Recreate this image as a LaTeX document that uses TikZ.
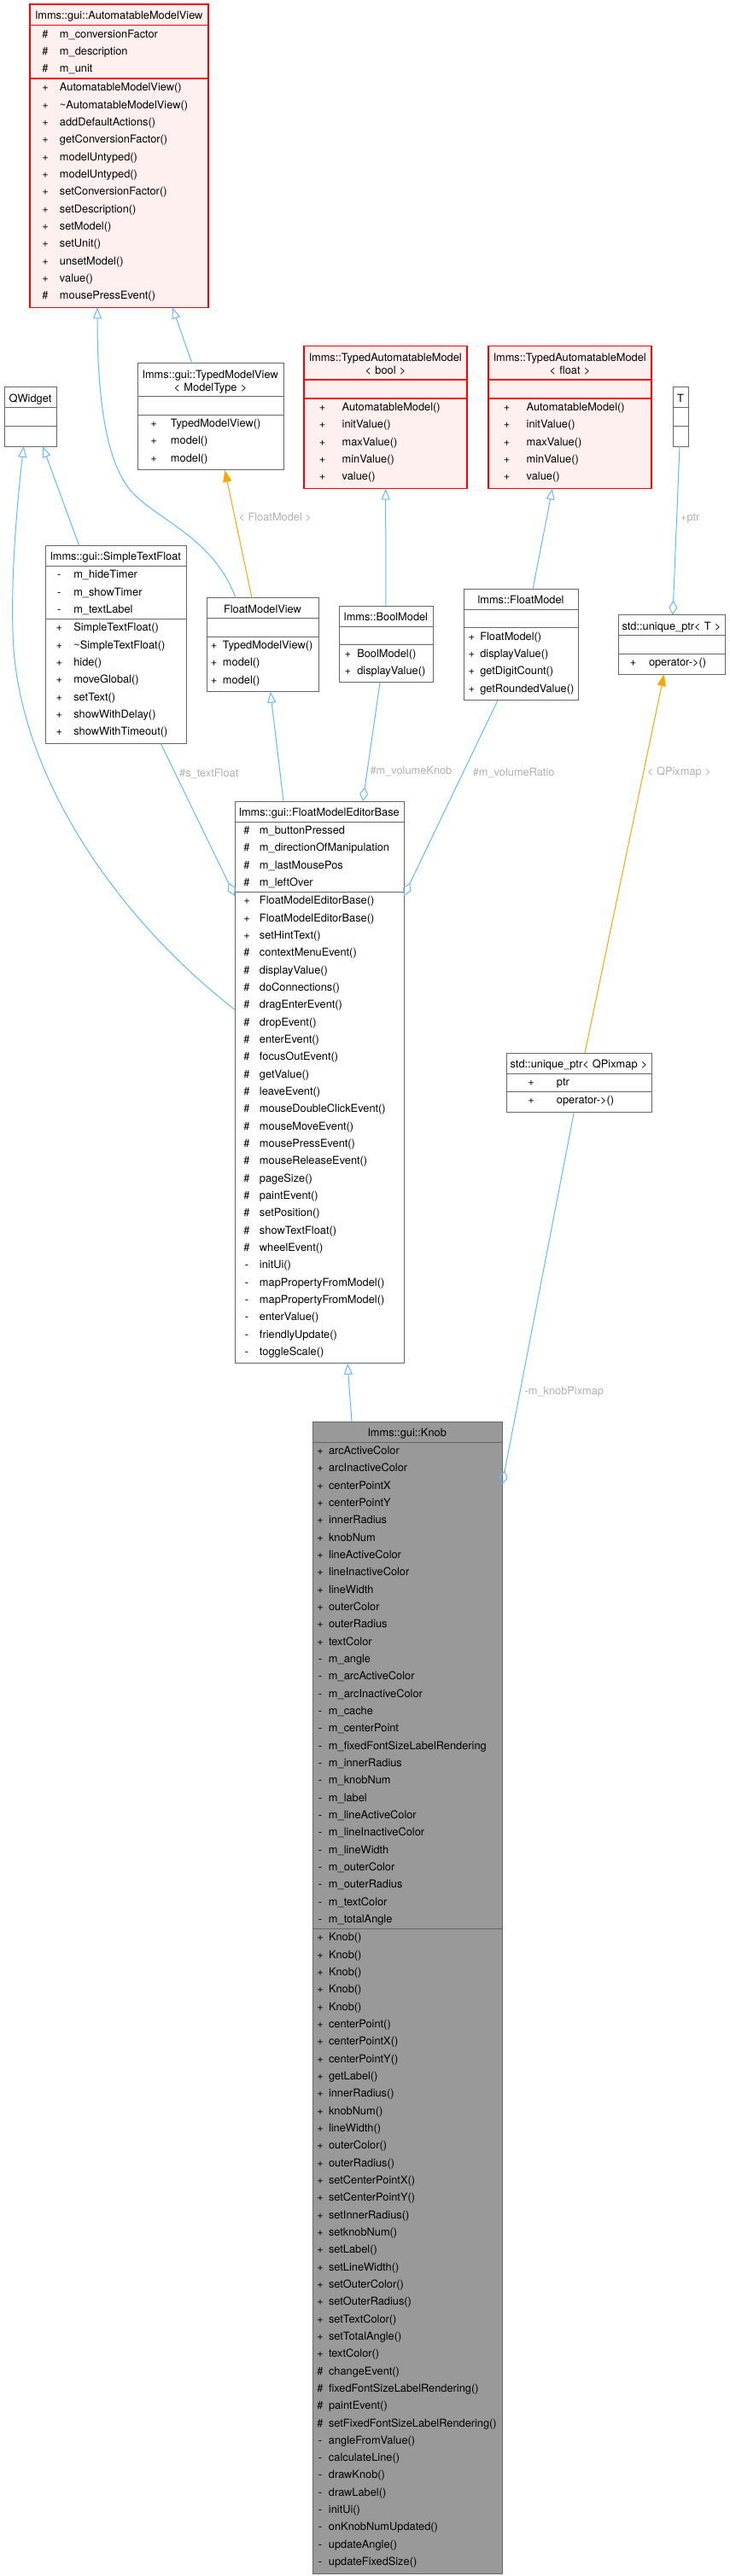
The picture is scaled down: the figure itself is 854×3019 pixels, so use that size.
\documentclass[tikz,border=0pt]{standalone}
\usepackage{fontspec}
\setmainfont{TeX Gyre Heros}
\usepackage{xcolor}
\usepackage{tikz}
\usetikzlibrary{shapes,arrows.meta}

\definecolor{edgeblue}{HTML}{63B8FF}
\definecolor{edgeorange}{HTML}{FFA500}
\definecolor{boxgray}{HTML}{666666}
\definecolor{knobfill}{HTML}{999999}
\definecolor{redfill}{HTML}{FFF0F0}
\definecolor{lblgray}{HTML}{B0B0B0}

% member rows
\newcommand{\symx}{10pt}
\newcommand{\namex}{20pt}
\newcommand{\rs}{\rule[-6.33pt]{0pt}{20.33pt}}
\newcommand{\botpad}{\rule[-9pt]{0pt}{9pt}}
\newcommand{\mbr}[2]{\mbox{\hspace*{\symx}\makebox[0pt]{#1}\hspace*{\dimexpr\namex-\symx\relax}#2\rs}}
\newcommand{\ttl}[1]{\makebox[\hsize]{\rule{0pt}{17pt}#1\rule[-6pt]{0pt}{6pt}}}
\newcommand{\ttltwo}[2]{\makebox[\hsize]{\rule{0pt}{17pt}#1}\\[-5.33pt]\makebox[\hsize]{#2\rule[-6pt]{0pt}{6pt}}}

\begin{document}
\begin{tikzpicture}[
    x=1pt, y=-1pt,
    classbox/.style={rectangle split, rectangle split parts=3, draw=boxgray, fill=white, line width=1pt, anchor=north west, inner sep=0pt, outer sep=0pt, align=left, font=\fontsize{12.8pt}{20.33pt}\selectfont},
    redbox/.style={classbox, draw=red, fill=redfill, line width=1.5pt},
    mainbox/.style={classbox, fill=knobfill},
    cols/.code 2 args={\def\symx{#1}\def\namex{#2}},
    inherit/.style={-{Triangle[open, length=13pt, width=10pt]}, draw=edgeblue, line width=1pt},
    usage/.style={-{Diamond[open, length=17pt, width=10pt]}, draw=edgeblue, line width=1pt},
    tmpl/.style={-{Triangle[length=14pt, width=10pt]}, draw=edgeorange, line width=1pt},
    elabel/.style={text=lblgray, font=\fontsize{12.8pt}{15pt}\selectfont, inner sep=2pt}
]
\useasboundingbox (0,0) rectangle (854,3019);

% Base classes
\node[redbox, cols={18pt}{35pt}, text width=209pt] (amv) at (35,5)
  {\ttl{lmms::gui::AutomatableModelView}
   \nodepart{second}\mbr{\#}{m\_conversionFactor}\\ \mbr{\#}{m\_description}\\ \mbr{\#}{m\_unit}
   \nodepart{third}\mbr{+}{AutomatableModelView()}\\ \mbr{+}{\textasciitilde AutomatableModelView()}\\
   \mbr{+}{addDefaultActions()}\\ \mbr{+}{getConversionFactor()}\\ \mbr{+}{modelUntyped()}\\
   \mbr{+}{modelUntyped()}\\ \mbr{+}{setConversionFactor()}\\ \mbr{+}{setDescription()}\\
   \mbr{+}{setModel()}\\ \mbr{+}{setUnit()}\\ \mbr{+}{unsetModel()}\\ \mbr{+}{value()}\\
   \mbr{\#}{mousePressEvent()}\botpad};
\node[classbox, text width=61pt] (qwidget) at (5,453.7)
  {\ttl{QWidget}\nodepart{second}\rs\nodepart{third}\rs\botpad};
\node[classbox, cols={19pt}{39pt}, text width=171pt] (tmv) at (161,425.8)
  {\ttltwo{lmms::gui::TypedModelView}{< ModelType >}
   \nodepart{second}\rs
   \nodepart{third}\mbr{+}{TypedModelView()}\\ \mbr{+}{model()}\\ \mbr{+}{model()}\botpad};
\node[redbox, cols={21.7pt}{44.7pt}, text width=191pt] (tamb) at (356,405.5)
  {\ttltwo{lmms::TypedAutomatableModel}{< bool >}
   \nodepart{second}\rs
   \nodepart{third}\mbr{+}{AutomatableModel()}\\ \mbr{+}{initValue()}\\ \mbr{+}{maxValue()}\\
   \mbr{+}{minValue()}\\ \mbr{+}{value()}\botpad};
\node[redbox, cols={21.7pt}{44.7pt}, text width=191pt] (tamf) at (572,405.5)
  {\ttltwo{lmms::TypedAutomatableModel}{< float >}
   \nodepart{second}\rs
   \nodepart{third}\mbr{+}{AutomatableModel()}\\ \mbr{+}{initValue()}\\ \mbr{+}{maxValue()}\\
   \mbr{+}{minValue()}\\ \mbr{+}{value()}\botpad};
\node[classbox, text width=18pt] (tt) at (788,453.7)
  {\ttl{T}\nodepart{second}\rs\nodepart{third}\rs\botpad};

% Middle classes
\node[classbox, cols={16.3pt}{33.3pt}, text width=165pt] (stf) at (53,639.4)
  {\ttl{lmms::gui::SimpleTextFloat}
   \nodepart{second}\mbr{-}{m\_hideTimer}\\ \mbr{-}{m\_showTimer}\\ \mbr{-}{m\_textLabel}
   \nodepart{third}\mbr{+}{SimpleTextFloat()}\\ \mbr{+}{\textasciitilde SimpleTextFloat()}\\
   \mbr{+}{hide()}\\ \mbr{+}{moveGlobal()}\\ \mbr{+}{setText()}\\ \mbr{+}{showWithDelay()}\\
   \mbr{+}{showWithTimeout()}\botpad};
\node[classbox, cols={8.7pt}{19pt}, text width=131pt] (fmv) at (242,700.7)
  {\ttl{FloatModelView}
   \nodepart{second}\rs
   \nodepart{third}\mbr{+}{TypedModelView()}\\ \mbr{+}{model()}\\ \mbr{+}{model()}\botpad};
\node[classbox, cols={10.3pt}{21.3pt}, text width=110pt] (boolm) at (397,710.3)
  {\ttl{lmms::BoolModel}
   \nodepart{second}\rs
   \nodepart{third}\mbr{+}{BoolModel()}\\ \mbr{+}{displayValue()}\botpad};
\node[classbox, cols={9.3pt}{19.3pt}, text width=134pt] (floatm) at (543,690.4)
  {\ttl{lmms::FloatModel}
   \nodepart{second}\rs
   \nodepart{third}\mbr{+}{FloatModel()}\\ \mbr{+}{displayValue()}\\ \mbr{+}{getDigitCount()}\\
   \mbr{+}{getRoundedValue()}\botpad};
\node[classbox, cols={17.7pt}{36pt}, text width=125pt] (uptrt) at (724,720.7)
  {\ttl{std::unique\_ptr< T >}
   \nodepart{second}\rs
   \nodepart{third}\mbr{+}{operator->()}\botpad};

% Editor base
\node[classbox, cols={14pt}{29pt}, text width=198pt] (fmeb) at (275,939)
  {\ttl{lmms::gui::FloatModelEditorBase}
   \nodepart{second}\mbr{\#}{m\_buttonPressed}\\ \mbr{\#}{m\_directionOfManipulation}\\
   \mbr{\#}{m\_lastMousePos}\\ \mbr{\#}{m\_leftOver}
   \nodepart{third}\mbr{+}{FloatModelEditorBase()}\\ \mbr{+}{FloatModelEditorBase()}\\
   \mbr{+}{setHintText()}\\ \mbr{\#}{contextMenuEvent()}\\ \mbr{\#}{displayValue()}\\
   \mbr{\#}{doConnections()}\\ \mbr{\#}{dragEnterEvent()}\\ \mbr{\#}{dropEvent()}\\
   \mbr{\#}{enterEvent()}\\ \mbr{\#}{focusOutEvent()}\\ \mbr{\#}{getValue()}\\
   \mbr{\#}{leaveEvent()}\\ \mbr{\#}{mouseDoubleClickEvent()}\\ \mbr{\#}{mouseMoveEvent()}\\
   \mbr{\#}{mousePressEvent()}\\ \mbr{\#}{mouseReleaseEvent()}\\ \mbr{\#}{pageSize()}\\
   \mbr{\#}{paintEvent()}\\ \mbr{\#}{setPosition()}\\ \mbr{\#}{showTextFloat()}\\
   \mbr{\#}{wheelEvent()}\\ \mbr{-}{initUi()}\\ \mbr{-}{mapPropertyFromModel()}\\
   \mbr{-}{mapPropertyFromModel()}\\ \mbr{-}{enterValue()}\\ \mbr{-}{friendlyUpdate()}\\
   \mbr{-}{toggleScale()}\botpad};
\node[classbox, cols={29pt}{59pt}, text width=170pt] (uptrqp) at (593,1234)
  {\ttl{std::unique\_ptr< QPixmap >}
   \nodepart{second}\mbr{+}{ptr}
   \nodepart{third}\mbr{+}{operator->()}\botpad};

% Knob
\node[mainbox, cols={9pt}{19pt}, text width=222pt] (knob) at (366,1666)
  {\ttl{lmms::gui::Knob}
   \nodepart{second}\mbr{+}{arcActiveColor}\\ \mbr{+}{arcInactiveColor}\\ \mbr{+}{centerPointX}\\
   \mbr{+}{centerPointY}\\ \mbr{+}{innerRadius}\\ \mbr{+}{knobNum}\\ \mbr{+}{lineActiveColor}\\
   \mbr{+}{lineInactiveColor}\\ \mbr{+}{lineWidth}\\ \mbr{+}{outerColor}\\ \mbr{+}{outerRadius}\\
   \mbr{+}{textColor}\\ \mbr{-}{m\_angle}\\ \mbr{-}{m\_arcActiveColor}\\ \mbr{-}{m\_arcInactiveColor}\\
   \mbr{-}{m\_cache}\\ \mbr{-}{m\_centerPoint}\\ \mbr{-}{m\_fixedFontSizeLabelRendering}\\
   \mbr{-}{m\_innerRadius}\\ \mbr{-}{m\_knobNum}\\ \mbr{-}{m\_label}\\ \mbr{-}{m\_lineActiveColor}\\
   \mbr{-}{m\_lineInactiveColor}\\ \mbr{-}{m\_lineWidth}\\ \mbr{-}{m\_outerColor}\\
   \mbr{-}{m\_outerRadius}\\ \mbr{-}{m\_textColor}\\ \mbr{-}{m\_totalAngle}
   \nodepart{third}\mbr{+}{Knob()}\\ \mbr{+}{Knob()}\\ \mbr{+}{Knob()}\\ \mbr{+}{Knob()}\\
   \mbr{+}{Knob()}\\ \mbr{+}{centerPoint()}\\ \mbr{+}{centerPointX()}\\ \mbr{+}{centerPointY()}\\
   \mbr{+}{getLabel()}\\ \mbr{+}{innerRadius()}\\ \mbr{+}{knobNum()}\\ \mbr{+}{lineWidth()}\\
   \mbr{+}{outerColor()}\\ \mbr{+}{outerRadius()}\\ \mbr{+}{setCenterPointX()}\\
   \mbr{+}{setCenterPointY()}\\ \mbr{+}{setInnerRadius()}\\ \mbr{+}{setknobNum()}\\
   \mbr{+}{setLabel()}\\ \mbr{+}{setLineWidth()}\\ \mbr{+}{setOuterColor()}\\
   \mbr{+}{setOuterRadius()}\\ \mbr{+}{setTextColor()}\\ \mbr{+}{setTotalAngle()}\\
   \mbr{+}{textColor()}\\ \mbr{\#}{changeEvent()}\\ \mbr{\#}{fixedFontSizeLabelRendering()}\\
   \mbr{\#}{paintEvent()}\\ \mbr{\#}{setFixedFontSizeLabelRendering()}\\ \mbr{-}{angleFromValue()}\\
   \mbr{-}{calculateLine()}\\ \mbr{-}{drawKnob()}\\ \mbr{-}{drawLabel()}\\ \mbr{-}{initUi()}\\
   \mbr{-}{onKnobNumUpdated()}\\ \mbr{-}{updateAngle()}\\ \mbr{-}{updateFixedSize()}\botpad};

% Connections
\draw[inherit] ([xshift=-21.5pt]tmv.north) -- ([xshift=62.5pt]amv.south);
\draw[inherit] ([xshift=-31.5pt]fmv.north) .. controls (250,630) and (185,610) .. (155,577)
  .. controls (125,545) and (114,470) .. ([xshift=-25.5pt]amv.south);
\draw[tmpl] ([xshift=-12.5pt]fmv.north) -- ([xshift=16.8pt]tmv.south)
  node[elabel, pos=0.63, right=2pt] (lblfloatmodel) {< FloatModel >};
\draw[inherit] ([xshift=-42.8pt]stf.north) -- ([xshift=14.5pt]qwidget.south);
\draw[inherit] ([yshift=-244.3pt]fmeb.north west) .. controls (130,1070) and (18,900) .. (15,740)
  .. controls (13,670) and (20,590) .. ([xshift=-7.8pt]qwidget.south);
\draw[inherit] (boolm) -- (tamb);
\draw[inherit] ([xshift=14pt]floatm.north) -- ([xshift=-20.5pt]tamf.south);
\draw[usage] ([xshift=-1pt]tt.south) -- ([xshift=1.5pt]uptrt.north)
  node[elabel, pos=0.43, right=2pt] (lblptr) {+ptr};
\draw[usage] ([xshift=52.8pt]stf.south) -- ([yshift=-111pt]fmeb.north west)
  node[elabel, pos=0.2, right=2pt] (lbltextfloat) {\#s\_textFloat};
\draw[inherit] ([xshift=-42pt]fmeb.north) -- ([xshift=9.2pt]fmv.south);
\draw[usage] ([xshift=-7pt]boolm.south) -- ([xshift=51pt]fmeb.north)
  node[elabel, pos=0.75, right=1pt] (lblvolknob) {\#m\_volumeKnob};
\draw[usage] ([xshift=-27pt]floatm.south) -- ([yshift=-111pt]fmeb.north east)
  node[elabel, pos=0.37, right=9pt] (lblvolratio) {\#m\_volumeRatio};
\draw[tmpl] ([xshift=7pt]uptrqp.north) -- ([xshift=-8.8pt]uptrt.south)
  node[elabel, pos=0.74, right=2pt] (lblqpixmap) {< QPixmap >};
\draw[inherit] ([xshift=-65pt]knob.north) -- ([xshift=33pt]fmeb.south);
\draw[usage] ([xshift=-5.7pt]uptrqp.south) -- ([yshift=-74pt]knob.north east)
  node[elabel, pos=0.75, right=3pt] (lblknobpixmap) {-m\_knobPixmap};

\end{tikzpicture}
\end{document}
